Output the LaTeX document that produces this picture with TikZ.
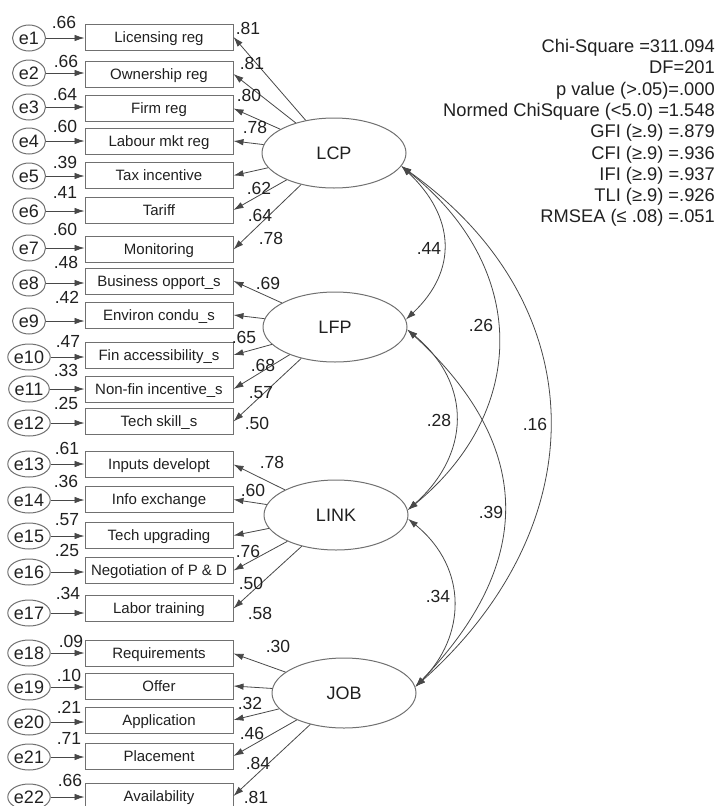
\documentclass[tikz,border=0pt]{standalone}
\usepackage{fontspec}
\setmainfont{Liberation Sans}
\usetikzlibrary{arrows.meta,calc,shapes.geometric}
\definecolor{ln}{HTML}{484848}
\definecolor{bd}{HTML}{707070}
\definecolor{tx}{HTML}{202020}
\begin{document}
\begin{tikzpicture}[x=1pt,y=-1pt,
  box/.style={draw=bd, line width=1pt, minimum width=148pt, minimum height=26pt, inner sep=0pt, text height=10.7pt, text depth=0pt, font=\fontsize{15}{15}\selectfont, text=tx},
  err/.style={draw=bd, line width=1pt, ellipse, minimum width=33pt, minimum height=26pt, inner sep=0pt, font=\fontsize{18}{18}\selectfont, text=tx},
  lat/.style={draw=bd, line width=1pt, ellipse, minimum width=144pt, minimum height=70pt, inner sep=0pt, font=\fontsize{18}{18}\selectfont, text=tx},
  num/.style={font=\fontsize{17.5}{17.5}\selectfont, text=tx, inner sep=0pt},
  stat/.style={font=\fontsize{18.3}{21.3}\selectfont, text=tx, inner sep=0pt, align=right},
  arr/.style={draw=ln, line width=0.8pt, -{Latex[length=10pt,width=6.5pt]}},
  cov/.style={draw=ln, line width=0.8pt, {Latex[length=10pt,width=6.5pt]}-{Latex[length=10pt,width=6.5pt]}},
]
\useasboundingbox (0,0) rectangle (719,806);
\clip (0,0) rectangle (719,806);

% boxes and error terms
\foreach \i/\ye/\yb/\txt in {
  1/38/37/Licensing reg,
  2/73/74/Ownership reg,
  3/107/108.5/Firm reg,
  4/141/141/Labour mkt reg,
  5/176/175.5/Tax incentive,
  6/211/210/Tariff,
  7/248/249.5/Monitoring,
  8/283/281/Business opport\_s,
  9/321/315/Environ condu\_s,
  10/357/355/Fin accessibility\_s,
  11/389/389/Non-fin incentive\_s,
  12/423/421.5/Tech skill\_s,
  13/464/464.5/Inputs developt,
  14/500/499.5/Info exchange,
  15/536/535.5/Tech upgrading,
  16/572/570.5/Negotiation of P \& D,
  17/613/608.5/Labor training,
  18/653/653.5/Requirements,
  19/687/686/Offer,
  20/722/720/Application,
  21/757/756/Placement,
  22/797/796/Availability}{
  \node[box] (b\i) at (159,\yb) {\txt};
  \node[err] (e\i) at (29,\ye) {e\i};
  \draw[arr] (e\i) -- (e\i -| b\i.west);
}

% variance labels
\foreach \x/\y/\v in {64/22/.66, 66/61/.66, 65/94/.64, 65/126/.60, 65/162/.39, 65/192/.41, 65/229/.60,
  66/262/.48, 67/297/.42, 68/341/.47, 66/370/.33, 66/403/.25,
  67/448/.61, 66/481/.36, 67/520/.57, 67/550/.25, 68/593/.34,
  71/641/.09, 69/675/.10, 69/707/.21, 69/738/.71, 70/780/.66}{
  \node[num] at (\x,\y) {\v};
}

% latent variables
\node[lat] (LCP) at (334,153) {LCP};
\node[lat] (LFP) at (335,327) {LFP};
\node[lat] (LINK) at (336,515) {LINK};
\node[lat] (JOB) at (344,693) {JOB};

% loadings
\foreach \b in {1,...,7}{\draw[arr] (LCP) -- (b\b.east);}
\foreach \b in {8,...,12}{\draw[arr] (LFP) -- (b\b.east);}
\foreach \b in {13,...,17}{\draw[arr] (LINK) -- (b\b.east);}
\foreach \b in {18,...,22}{\draw[arr] (JOB) -- (b\b.east);}

\foreach \x/\y/\v in {248/28/.81, 252/63/.81, 249/95/.80, 255/127/.78, 259/188/.62, 260/215/.64, 271/238/.78,
  268/283/.69, 244/337/.65, 263/365/.68, 261/393/.57, 257/423/.50,
  272/462/.78, 253/490/.60, 248/551/.76, 251/583/.50, 260/613/.58,
  278/646/.30, 250/703/.32, 252/733/.46, 258/763/.84, 256/797/.81}{
  \node[num] at (\x,\y) {\v};
}

% covariances
\draw[cov] (LCP.-11) .. controls +(53,50) and +(53,-50) .. (LFP.6);
\draw[cov] (LCP.-11) .. controls +(127,100) and +(122,-100) .. (LINK.4);
\draw[cov] (LCP.-11) .. controls +(196,140) and +(180,-160) .. (JOB.5);
\draw[cov] (LFP.-2) .. controls +(66,55) and +(62,-55) .. (LINK.4);
\draw[cov] (LFP.-2) .. controls +(131,120) and +(116,-120) .. (JOB.5);
\draw[cov] (LINK.-3) .. controls +(61,50) and +(50,-50) .. (JOB.5);

\node[num] at (429,248) {.44};
\node[num] at (481,325) {.26};
\node[num] at (535,424) {.16};
\node[num] at (439,420) {.28};
\node[num] at (491,512) {.39};
\node[num] at (438,596) {.34};

% fit statistics
\node[stat, anchor=east] (fit) at (715,133) {Chi-Square =311.094\\
DF=201\\
p value (>.05)=.000\\
Normed ChiSquare (<5.0) =1.548\\
GFI (≥.9) =.879\\
CFI (≥.9) =.936\\
IFI (≥.9) =.937\\
TLI (≥.9) =.926\\
RMSEA (≤ .08) =.051};
\end{tikzpicture}
\end{document}
